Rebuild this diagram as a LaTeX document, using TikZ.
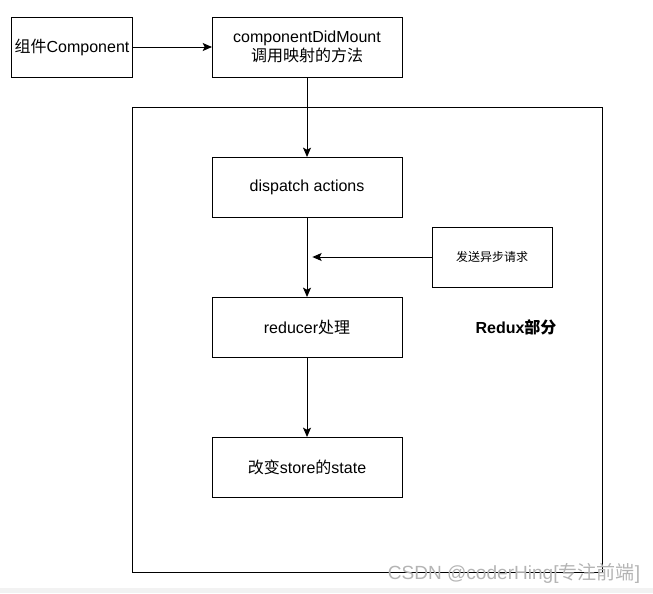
\documentclass[tikz,border=0pt]{standalone}
\usepackage{fontspec}
\setmainfont{Liberation Sans}
\newfontfamily\cjk{Noto Sans CJK SC}
\usepackage{tikz}
\usetikzlibrary{arrows.meta,positioning}
\definecolor{rxedge}{RGB}{0,0,0}
\definecolor{rxmark}{RGB}{180,180,180}
\definecolor{rxstrip}{RGB}{242,242,242}
\tikzset{
  rxbox/.style={
    draw=rxedge, line width=0.75pt, fill=white, outer sep=0pt,
    align=center, inner sep=2pt, font=\fontsize{12}{14}\selectfont,
    minimum width=142.5pt, minimum height=45pt
  },
  small/.style={rxbox, minimum width=90pt},
  side/.style={small, font=\fontsize{9}{11}\selectfont},
  frame/.style={draw=rxedge, line width=0.75pt},
  arr/.style={-{Stealth[length=7pt,width=6pt,inset=1.5pt]}, draw=rxedge, line width=0.75pt},
  tag/.style={font=\bfseries\fontsize{12}{14}\selectfont},
  wmark/.style={text=rxmark, font=\fontsize{14.3}{16}\selectfont}
}
\begin{document}
\begin{tikzpicture}[x=0.75pt, y=-0.75pt, node distance=60pt]
  \useasboundingbox (0,0) rectangle (653,593);
  \fill[rxstrip] (0,588) rectangle (653,593);
  % Redux part
  \draw[frame] (132,107) rectangle (602,572);
  \node[small] (comp) at (72,47) {{\cjk 组件}Component};
  \node[rxbox, right=of comp] (cdm) {componentDidMount\\{\cjk 调用映射的方法}};
  \node[rxbox, below=of cdm] (disp) {dispatch actions};
  \node[rxbox, below=of disp] (red) {reducer{\cjk 处理}};
  \node[rxbox, below=of red] (store) {{\cjk 改变}store{\cjk 的}state};
  \node[side] (async) at (492,257) {\cjk 发送异步请求};
  \coordinate (hit) at (disp.south |- async.west);
  \node[tag] (rx) at (516,327) {Redux{\cjk 部分}};
  \node[wmark] (wm) at (514,573) {CSDN @coderHing[{\cjk 专注前端}]};
  \draw[arr] (comp) -- (cdm);
  \draw[arr] (cdm) -- (disp);
  \draw[arr] (disp) -- (red);
  \draw[arr] (red) -- (store);
  \draw[arr, shorten >=4pt] (async) -- (hit);
\end{tikzpicture}
\end{document}
